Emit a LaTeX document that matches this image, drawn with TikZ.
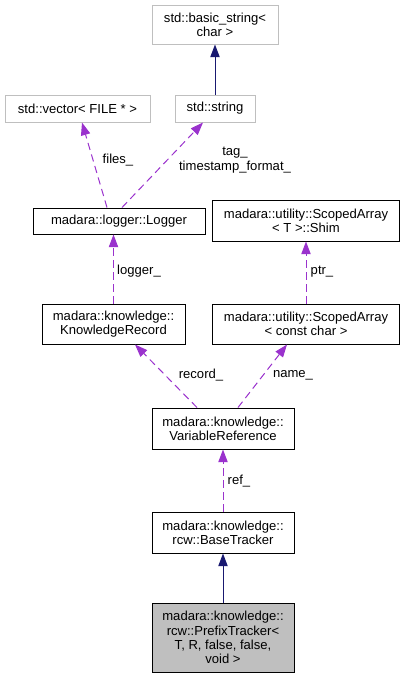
\documentclass[tikz,border=0pt]{standalone}
\usepackage{fontspec}
\setmainfont{Liberation Sans}
\usepackage{tikz}
\usetikzlibrary{arrows.meta,calc}
\definecolor{edgeblue}{RGB}{25,25,112}
\definecolor{edgepurple}{RGB}{154,50,205}
\definecolor{boxgray}{RGB}{191,191,191}
\tikzset{
  cls/.style={draw=black,line width=0.75pt,inner sep=0pt,align=center,
    font=\fontsize{9.8}{10.7}\selectfont},
  extcls/.style={cls,draw=boxgray},
  lbl/.style={inner sep=0pt,align=center,font=\fontsize{9.8}{10.7}\selectfont},
  inherit/.style={draw=edgeblue,line width=0.75pt,
    -{Triangle[length=9.5pt,width=7pt]},fill=none},
  usage/.style={draw=edgepurple,line width=0.75pt,dash pattern=on 5.5pt off 3.5pt,
    -{Triangle[length=9.5pt,width=7pt,fill=edgepurple]}}
}
\begin{document}
\begin{tikzpicture}[x=0.75pt,y=0.75pt,yscale=-1,xscale=1]
\useasboundingbox (0,0) rectangle (405,679);

% Class Nodes
\node [extcls,minimum width=94.5pt,minimum height=29.25pt] (basic) at (215,24.5) {std::basic\_string\textless\\char \textgreater};
\node [extcls,minimum width=108.75pt,minimum height=20.25pt] (vector) at (77.5,108.5) {std::vector\textless{} FILE * \textgreater};
\node [extcls,minimum width=60pt,minimum height=20.25pt] (string) at (215,108.5) {std::string};
\node [cls,minimum width=129pt,minimum height=19.5pt] (logger) at (119,221) {madara::logger::Logger};
\node [cls,minimum width=140.25pt,minimum height=30.75pt] (shim) at (306,220.5) {madara::utility::ScopedArray\\\textless{} T \textgreater::Shim};
\node [cls,minimum width=107.25pt,minimum height=30pt] (record) at (113.5,324) {madara::knowledge::\\KnowledgeRecord};
\node [cls,minimum width=140pt,minimum height=30pt] (scoped) at (306,324) {madara::utility::ScopedArray\\\textless{} const char \textgreater};
\node [cls,minimum width=106.5pt,minimum height=30.75pt] (varref) at (223,428.5) {madara::knowledge::\\VariableReference};
\node [cls,minimum width=106.5pt,minimum height=30.75pt] (base) at (223,532.5) {madara::knowledge::\\rcw::BaseTracker};
\node [cls,fill=boxgray,minimum width=106.5pt,minimum height=51.75pt] (prefix) at (223,637.5) {madara::knowledge::\\rcw::PrefixTracker\textless\\T, R, false, false,\\void \textgreater};

% Inheritance
\draw [inherit] (string.north) -- (basic.south);
\draw [inherit] (prefix.north) -- (base.south);

% Usage
\draw [usage] ($(logger.north)+(-12,0)$) -- ($(vector.south)+(4.5,0)$);
\draw [usage] ($(logger.north)+(3,0)$) -- ($(string.south)+(-12,0)$);
\draw [usage] (record.north) -- (record.north |- logger.south);
\draw [usage] (scoped.north) -- (shim.south);
\draw [usage] ($(varref.north)+(-26,0)$) -- ($(record.south)+(21.5,0)$);
\draw [usage] ($(varref.north)+(15,0)$) -- ($(scoped.south)+(-19,0)$);
\draw [usage] (base.north) -- (varref.south);

% Text Node
\node [lbl] (lfiles) at (118,160) {files\_};
\node [lbl] (ltag) at (235,160) {tag\_\\timestamp\_format\_};
\node [lbl] (llogger) at (139,271) {logger\_};
\node [lbl] (lptr) at (322,272) {ptr\_};
\node [lbl] (lrecord) at (201,375) {record\_};
\node [lbl] (lname) at (293,375) {name\_};
\node [lbl] (lref) at (239,481) {ref\_};

\end{tikzpicture}
\end{document}
